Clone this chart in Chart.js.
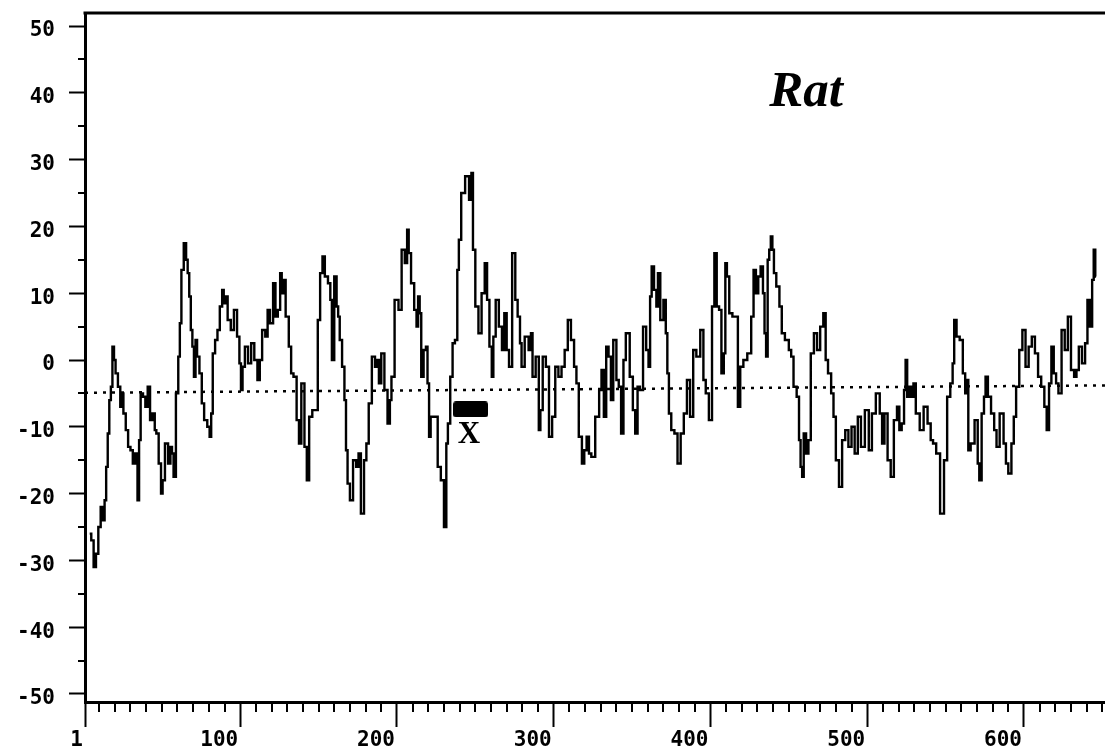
<!DOCTYPE html>
<html>
<head>
<meta charset="utf-8">
<title>Rat</title>
<script src="https://cdn.jsdelivr.net/npm/chart.js@4.4.1/dist/chart.umd.min.js"></script>
<style>
  html, body { margin: 0; padding: 0; background: #fff; }
  #wrap { width: 1105px; height: 751px; }
</style>
</head>
<body>
<div id="wrap"><canvas id="chart" width="1105" height="751"></canvas></div>
<script>
// ============ Data ============
const residues = [
  4, 6, 7, 9, 10, 12, 13, 14, 15, 16, 17, 18, 19, 20, 21, 23, 24, 25, 26, 28,
  29, 31, 32, 34, 35, 36, 37, 39, 40, 42, 43, 45, 46, 47, 49, 50, 51, 53, 55, 56,
  57, 58, 60, 61, 62, 63, 65, 66, 67, 68, 69, 70, 71, 72, 73, 75, 76, 78, 80, 81,
  82, 83, 85, 86, 88, 89, 90, 91, 93, 95, 97, 99, 100, 101, 102, 104, 106, 108, 110, 112,
  113, 115, 117, 118, 120, 122, 123, 125, 126, 127, 128, 130, 132, 133, 135, 137, 138, 140, 142, 143,
  145, 147, 149, 150, 152, 153, 155, 157, 158, 159, 161, 162, 163, 164, 166, 167, 168, 169, 171, 173,
  175, 176, 178, 180, 181, 183, 185, 187, 188, 189, 191, 193, 195, 196, 197, 200, 202, 204, 206, 207,
  208, 210, 212, 213, 214, 215, 216, 218, 219, 220, 221, 222, 225, 227, 229, 231, 232, 233, 235, 236,
  238, 239, 240, 242, 245, 247, 248, 249, 251, 253, 255, 257, 258, 260, 261, 262, 264, 266, 268, 269,
  271, 272, 275, 276, 278, 279, 280, 283, 285, 286, 287, 290, 291, 292, 294, 296, 298, 300, 302, 304,
  306, 308, 310, 312, 314, 315, 317, 319, 320, 322, 323, 325, 328, 330, 331, 333, 334, 336, 337, 339,
  341, 342, 344, 345, 347, 350, 351, 353, 354, 356, 358, 360, 361, 362, 363, 365, 366, 367, 369, 371,
  372, 373, 374, 376, 378, 380, 382, 384, 386, 388, 390, 392, 395, 396, 398, 400, 402, 403, 405, 406,
  408, 409, 410, 411, 413, 415, 417, 418, 420, 422, 425, 427, 428, 430, 431, 433, 434, 435, 436, 437,
  438, 439, 440, 441, 443, 445, 446, 449, 451, 452, 454, 456, 457, 458, 459, 460, 462, 463, 465, 467,
  469, 471, 473, 474, 476, 478, 479, 481, 483, 485, 487, 489, 491, 493, 495, 497, 500, 502, 504, 507,
  509, 510, 512, 514, 516, 518, 520, 521, 523, 524, 525, 526, 528, 529, 530, 532, 535, 537, 540, 541,
  543, 545, 548, 550, 552, 554, 555, 556, 558, 560, 562, 563, 564, 565, 567, 570, 571, 572, 574, 575,
  576, 578, 580, 582, 583, 586, 588, 589, 591, 593, 594, 596, 598, 600, 602, 604, 606, 608, 610, 612,
  614, 615, 617, 618, 620, 621, 623, 625, 627, 629, 631, 633, 634, 636, 638, 640, 641, 643, 644, 645,
  646
];
const scores = [
  -26, -27, -31, -29, -25, -22, -24, -21, -16, -11, -6, -4, 2, 0, -2, -4, -7, -5, -8, -10.5,
  -13, -13.5, -15.5, -14, -21, -12, -5, -5.5, -7, -4, -9, -8, -10.5, -11, -15.5, -20, -18, -12.5, -15.5, -13,
  -14, -17.5, -5, 0.5, 5.5, 13.5, 17.5, 15, 13, 9.5, 4.5, 2, -2.5, 3, 0.5, -2, -6.5, -9, -10, -11.5,
  -8, 1, 3, 4.5, 8, 10.5, 8.5, 9.5, 6, 4.5, 7.5, 3.5, -0.5, -4.5, -1, 2, -0.5, 2.5, 0, -3,
  0, 4.5, 3.5, 7.5, 5.5, 11.5, 6.5, 7.5, 13, 10, 12, 6.5, 2, -2, -2.5, -9, -12.5, -3.5, -13, -18,
  -8.5, -7.5, -7.5, 6, 13, 15.5, 12.5, 11.5, 9, 0, 12.5, 8, 6.5, 3, -1, -6, -13.5, -18.5, -21, -15,
  -16, -14, -23, -15, -12.5, -6.5, 0.5, -1, 0, -3.5, 1, -4.5, -9.5, -6, -2.5, 9, 7.5, 16.5, 14.5, 19.5,
  16, 11.5, 7.5, 5, 9.5, 7, -2.5, 1.5, 2, -3.5, -11.5, -8.5, -8.5, -16, -18, -25, -12.5, -9.5, -2.5, 2.5,
  3, 13.5, 18, 25, 27.5, 24, 28, 16.5, 8, 4, 10, 14.5, 9, 2, -2.5, 3.5, 9, 5, 1.5, 7,
  1.5, -1, 16, 9, 6.5, 2.5, -1, 3.5, 1.5, 4, -2.5, 0.5, -10.5, -7.5, 0.5, -1, -11.5, -8.5, -1, -2.5,
  -1, 1.5, 6, 3, -1, -3.5, -11.5, -15.5, -13.5, -11.5, -14, -14.5, -8.5, -4.5, -1.5, -8.5, 2, 0.5, -6, 3,
  -3, -4, -11, 0, 4, -2.5, -7.5, -11, -4, -4.5, 5, 1.5, -1, 9.5, 14, 10.5, 8, 13, 6, 9,
  4, -2, -8, -10.5, -11, -15.5, -11, -8, -3, -8.5, 1.5, 0.5, 4.5, -3, -5, -9, 8, 16, 8, 7.5,
  -2, 1, 14.5, 12.5, 7, 6.5, 6.5, -7, -1, 0, 1, 6.5, 13.5, 10, 12.5, 14, 10, 4, 0.5, 15,
  16.5, 18.5, 16.5, 13, 11, 8, 4, 3, 1.5, 0.5, -4, -5.5, -12, -16, -17.5, -11, -14, -12, 1, 4,
  1.5, 5, 7, 0, -2, -5, -8.5, -15, -19, -12, -10.5, -13, -10, -14, -8.5, -13, -7.5, -13.5, -8, -5,
  -8, -12.5, -8, -15, -17.5, -9, -7, -10.5, -9.5, -4.5, 0, -5.5, -4, -5.5, -3.5, -8, -10.5, -7, -9.5, -12,
  -12.5, -14, -23, -15, -5.5, -3.5, -0.5, 6, 3.5, 3, -2, -5, -3, -13.5, -12.5, -9, -15.5, -18, -8, -5.5,
  -2.5, -5.5, -8, -10.5, -13, -8, -12.5, -15.5, -17, -12.5, -8.5, -4, 1.5, 4.5, -1, 2, 3.5, 1, -2.5, -4,
  -7, -10.5, -3.5, 2, -2, -3.5, -5, 4.5, 1.5, 6.5, -1.5, -2.5, -1.5, 2, -0.5, 2.5, 9, 5, 12, 16.5,
  12.5
];

// dotted reference line (slightly tilted in the scan)
const refResidues = [1, 652];
const refScores = [-4.9, -3.8];

// "X" marker
const markerResidue = [247];
const markerScore = [-7.4];
const markerText = 'X';
const markerTextAt = [246, -12.4];

const titleText = 'Rat';
const titleAt = [461, 38];

const xTicks = [1, 100, 200, 300, 400, 500, 600];
const yTicks = [-50, -40, -30, -20, -10, 0, 10, 20, 30, 40, 50];

// minor tick marks
const xMinor = [];
for (let v = 10; v <= 650; v += 10) if (v % 100 !== 0) xMinor.push(v);
const yMinor = [-45, -35, -25, -15, -5, 5, 15, 25, 35, 45];

// ============ Helpers ============
const tickFont = { family: '"DejaVu Sans Mono", monospace', size: 21, weight: 'bold' };

const markerBox = document.createElement('canvas');
markerBox.width = 35;
markerBox.height = 16;
(function () {
    const c = markerBox.getContext('2d');
    c.fillStyle = '#000';
    c.beginPath();
    if (c.roundRect) c.roundRect(0, 0, 35, 16, 3); else c.rect(0, 0, 35, 16);
    c.fill();
})();

const decorations = {
    id: 'decorations',
    afterDraw(chart) {
        const { ctx, chartArea, scales } = chart;
        const x = scales.x, y = scales.y;
        ctx.save();
        ctx.strokeStyle = '#000';

        // top frame line
        ctx.lineWidth = 3;
        ctx.beginPath();
        ctx.moveTo(chartArea.left - 1.5, chartArea.top);
        ctx.lineTo(chartArea.right, chartArea.top);
        ctx.stroke();

        // minor ticks
        ctx.lineWidth = 2;
        xMinor.forEach(v => {
            const px = Math.round(x.getPixelForValue(v));
            ctx.beginPath();
            ctx.moveTo(px, chartArea.bottom);
            ctx.lineTo(px, chartArea.bottom + 10);
            ctx.stroke();
        });
        yMinor.forEach(v => {
            const py = Math.round(y.getPixelForValue(v));
            ctx.beginPath();
            ctx.moveTo(chartArea.left, py);
            ctx.lineTo(chartArea.left - 7, py);
            ctx.stroke();
        });

        // texts
        ctx.fillStyle = '#000';
        ctx.textAlign = 'center';
        ctx.textBaseline = 'alphabetic';
        ctx.font = 'italic bold 51px "Liberation Serif", serif';
        ctx.fillText(titleText, x.getPixelForValue(titleAt[0]), y.getPixelForValue(titleAt[1]));
        ctx.font = 'bold 31px "Liberation Serif", serif';
        ctx.fillText(markerText, x.getPixelForValue(markerTextAt[0]), y.getPixelForValue(markerTextAt[1]));
        ctx.restore();
    }
};

// ============ Chart ============
function initChart() {
    const ctx = document.getElementById('chart').getContext('2d');

    new Chart(ctx, {
        type: 'line',
        data: {
            datasets: [{
                data: residues.map((r, i) => ({ x: r, y: scores[i] })),
                borderColor: '#000',
                borderWidth: 2.4,
                stepped: 'middle',
                pointRadius: 0,
                fill: false
            }, {
                data: refResidues.map((r, i) => ({ x: r, y: refScores[i] })),
                borderColor: '#000',
                borderWidth: 2.5,
                borderDash: [3, 6],
                borderCapStyle: 'butt',
                pointRadius: 0,
                fill: false
            }, {
                data: markerResidue.map((r, i) => ({ x: r, y: markerScore[i] })),
                showLine: false,
                pointStyle: markerBox,
                pointRadius: 10
            }]
        },
        options: {
            responsive: false,
            animation: false,
            layout: { autoPadding: false, padding: { top: 13, right: 0, bottom: 0, left: 0 } },
            plugins: {
                legend: { display: false },
                tooltip: { enabled: false }
            },
            scales: {
                x: {
                    type: 'linear',
                    min: 1,
                    max: 651.7,
                    afterBuildTicks: scale => { scale.ticks = xTicks.map(v => ({ value: v })); },
                    afterFit: scale => {
                        scale.height = 49;
                        scale.paddingLeft = 0;
                        scale.paddingRight = 0;
                    },
                    grid: {
                        drawOnChartArea: false,
                        tickLength: 25,
                        tickWidth: 2,
                        tickColor: '#000'
                    },
                    border: { display: true, color: '#000', width: 3 },
                    ticks: {
                        color: '#000',
                        font: tickFont,
                        align: 'end',
                        labelOffset: -2,
                        padding: 1,
                        maxRotation: 0,
                        autoSkip: false,
                        callback: v => String(v)
                    }
                },
                y: {
                    min: -51.2,
                    max: 51.95,
                    afterBuildTicks: scale => { scale.ticks = yTicks.map(v => ({ value: v })); },
                    afterFit: scale => {
                        scale.width = 85;
                        scale.paddingTop = 0;
                        scale.paddingBottom = 0;
                    },
                    grid: {
                        drawOnChartArea: false,
                        tickLength: 16,
                        tickWidth: 2,
                        tickColor: '#000'
                    },
                    border: { display: true, color: '#000', width: 3 },
                    ticks: {
                        color: '#000',
                        font: tickFont,
                        padding: 14,
                        labelOffset: 5,
                        autoSkip: false,
                        callback: v => String(v)
                    }
                }
            }
        },
        plugins: [decorations]
    });
}

document.addEventListener('DOMContentLoaded', initChart);
</script>
</body>
</html>
